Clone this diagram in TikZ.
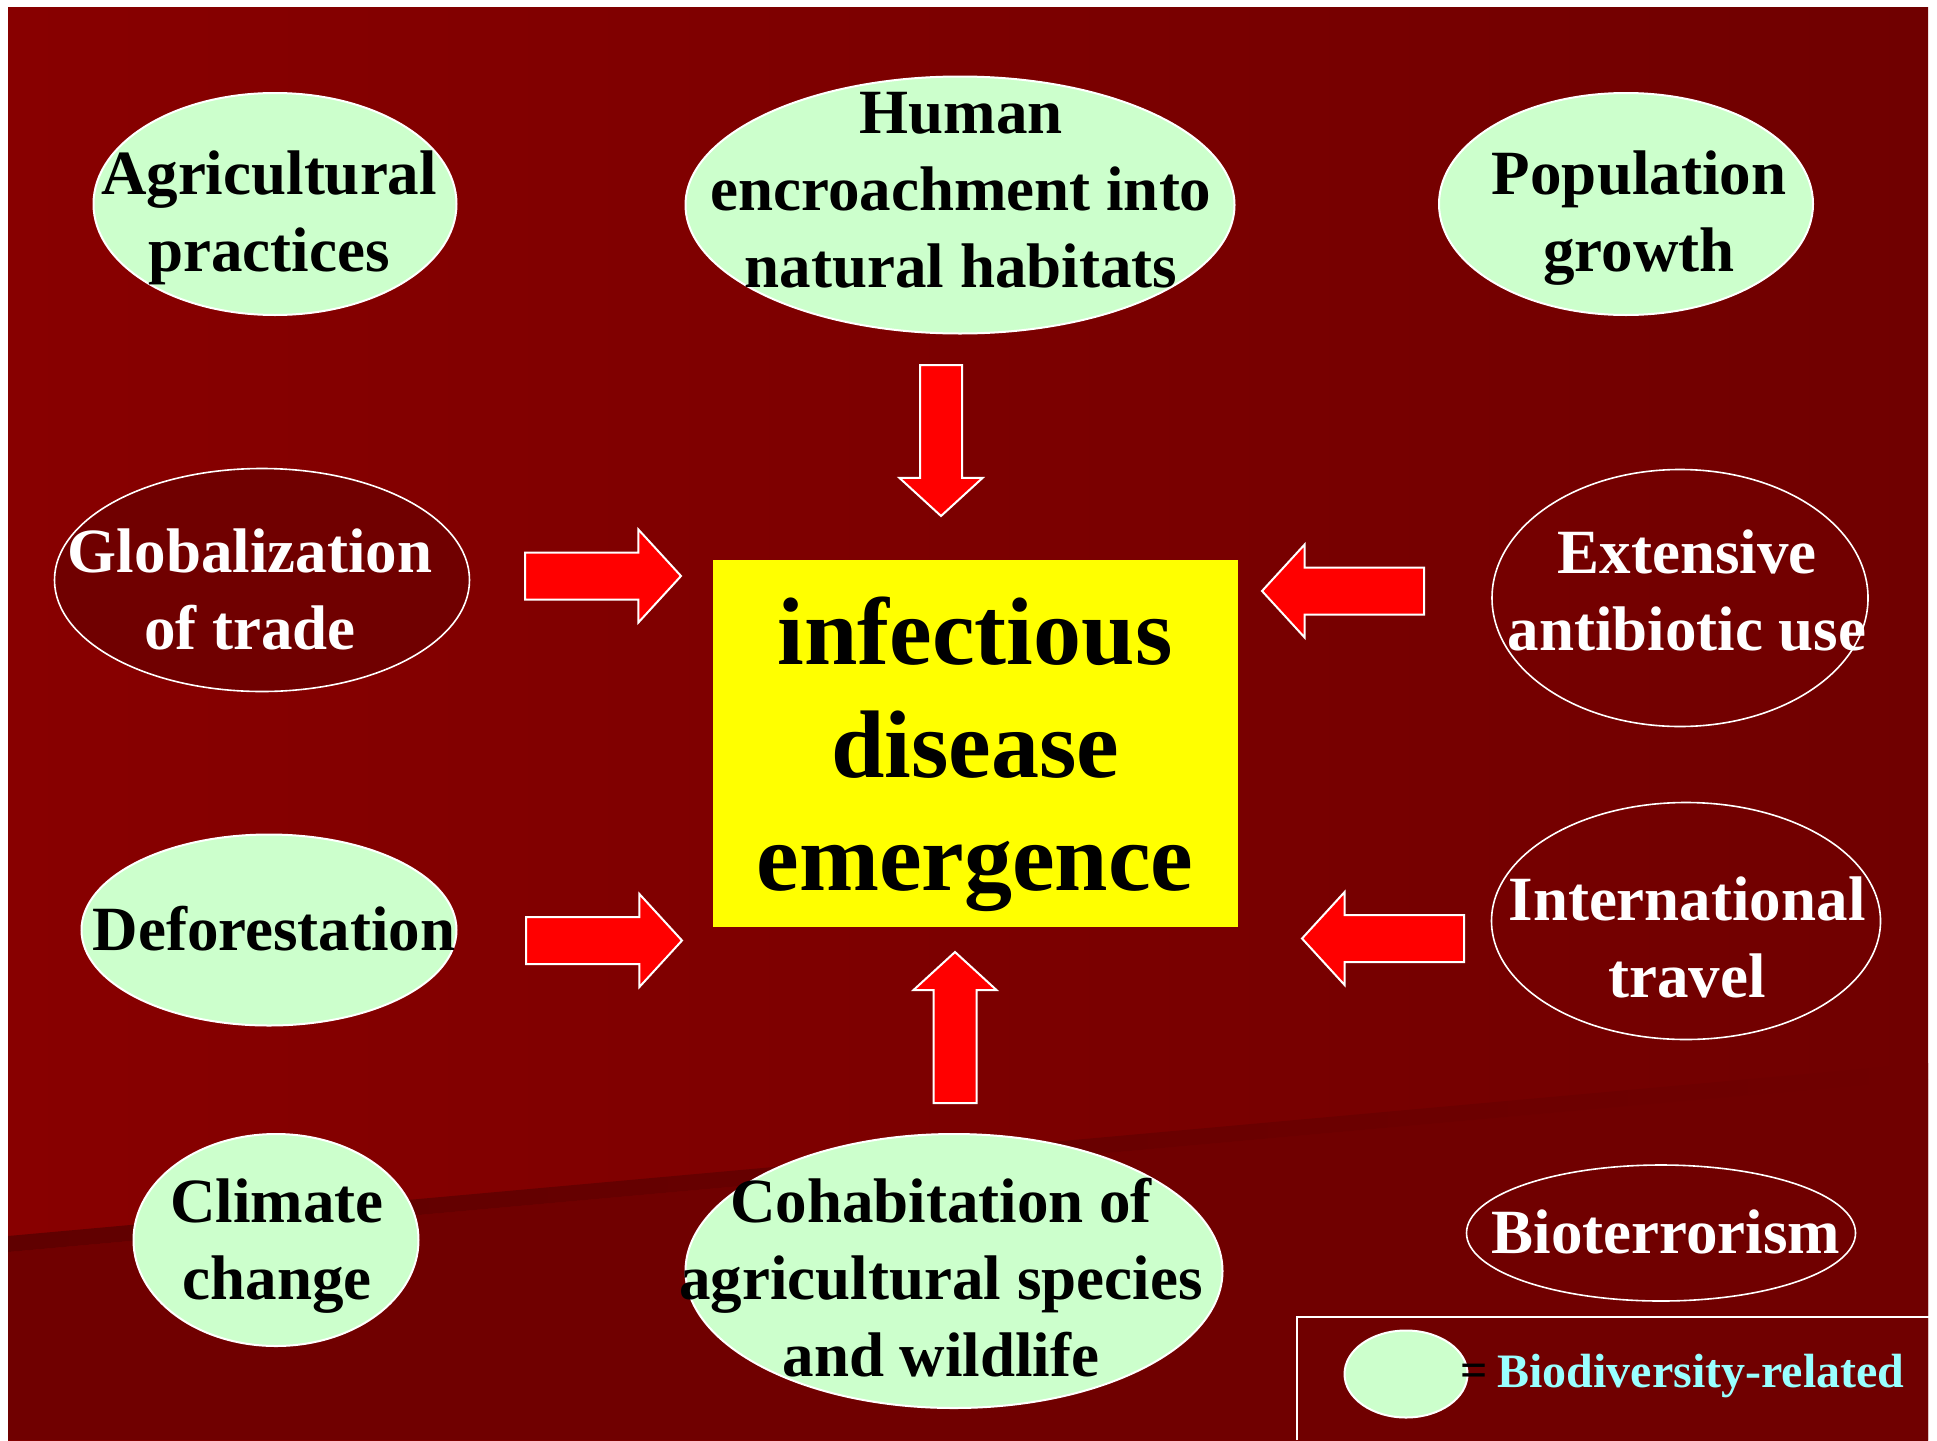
\documentclass[tikz,border=0pt]{standalone}
\usepackage{fontspec}
\setmainfont{Liberation Serif}
\usetikzlibrary{shapes.geometric,shapes.arrows}
\definecolor{bgLeft}{HTML}{880000}
\definecolor{bgRight}{HTML}{700000}
\definecolor{bgBand}{HTML}{600000}
\definecolor{bioGreen}{HTML}{CCFFCC}
\definecolor{legCyan}{HTML}{99FFFF}
\definecolor{coreYellow}{RGB}{255,255,0}
\definecolor{pushRed}{RGB}{255,0,0}

\begin{document}
\begin{tikzpicture}[
   x=1pt, y=-1pt,
   bio/.style={ellipse,draw=white,line width=2pt,fill=bioGreen,inner sep=0pt},
   risk/.style={ellipse,draw=white,line width=1.6pt,inner sep=0pt},
   txt/.style={align=center,inner sep=0pt,font=\fontsize{63}{77}\selectfont\bfseries},
   txtw/.style={txt,text=white},
   core/.style={fill=coreYellow,inner sep=0pt,minimum width=525pt,minimum height=367pt},
   push/.style={single arrow,draw=white,fill=pushRed,line width=2pt,inner xsep=0pt,
                inner ysep=22.5pt,single arrow head extend=23pt,
                single arrow tip angle=95,minimum height=156pt,anchor=tail},
   ]
\useasboundingbox[fill=white] (0,0) rectangle (1937,1440);
%% background
\shade[left color=bgLeft,right color=bgRight] (8,7) rectangle (1928,1440);
\fill[bgRight] (8,1252) -- (1928,1079) -- (1928,1440) -- (8,1440) -- cycle;
\shade[left color=bgBand,right color=bgRight] (8,1236) -- (1928,1063) -- (1928,1079) -- (8,1252) -- cycle;
%% causes, top row
\node[bio,minimum width=363pt,minimum height=222pt] (agri) at (275,204) {};
\node[txt] (agriTxt) at (269,218) {Agricultural\\practices};
\node[bio,minimum width=549pt,minimum height=257pt] (human) at (960,205) {};
\node[txt] (humanTxt) at (961,190) {Human\\encroachment into\\natural habitats};
\node[bio,minimum width=374pt,minimum height=222pt] (pop) at (1626,204) {};
\node[txt] (popTxt) at (1639,218) {Population\\growth};
%% causes, middle rows
\node[risk,fill=bgRight,minimum width=415pt,minimum height=223pt] (glob) at (262,580) {};
\node[txtw] (globTxt) at (250,589) {Globalization\\of trade};
\node[risk,minimum width=376pt,minimum height=257pt] (ext) at (1680,598) {};
\node[txtw] (extTxt) at (1687,591) {Extensive\\antibiotic use};
\node[bio,minimum width=375pt,minimum height=191pt] (defo) at (269,930) {};
\node[txt] (defoTxt) at (274,929) {Deforestation};
\node[risk,minimum width=389pt,minimum height=237pt] (intl) at (1686,921) {};
\node[txtw] (intlTxt) at (1687,937) {International\\travel};
%% causes, bottom row
\node[bio,minimum width=285pt,minimum height=212pt] (clim) at (276,1240) {};
\node[txt] (climTxt) at (277,1246) {Climate\\change};
\node[bio,minimum width=537pt,minimum height=274pt] (coh) at (954,1271) {};
\node[txt] (cohTxt) at (941,1278) {Cohabitation of\\agricultural species\\and wildlife};
\node[risk,minimum width=389pt,minimum height=136pt] (bioter) at (1661,1233) {};
\node[txtw] (bioterTxt) at (1666,1232) {Bioterrorism};
%% centre
\node[core] (core) at (975,743.5) {};
\node[align=center,inner sep=0pt,font=\fontsize{96}{113}\selectfont\bfseries] (coreTxt) at (975,754) {infectious\\disease\\emergence};
%% block arrows (placed by their tails)
\node[push,rotate=-90,minimum height=151pt,inner ysep=20pt,single arrow head extend=20.5pt] (arrTop) at (941,364) {};
\node[push] (arrGlob) at (524,576) {};
\node[push] (arrDefo) at (525,940.5) {};
\node[push,rotate=180,minimum height=162pt] (arrExt) at (1425,591) {};
\node[push,rotate=180,minimum height=162pt] (arrIntl) at (1465,938.5) {};
\node[push,rotate=90,minimum height=151pt,inner ysep=20.5pt,single arrow head extend=20pt] (arrCoh) at (955,1104) {};
%% legend
\draw[white,line width=1.5pt] (1297,1440) -- (1297,1317) -- (1930,1317);
\node[bio,minimum width=123pt,minimum height=87pt] (legBio) at (1406,1374) {};
\node[inner sep=0pt,font=\fontsize{48}{56}\selectfont\bfseries] (legEq) at (1474,1375) {=};
\node[inner sep=0pt,text=legCyan,font=\fontsize{48}{56}\selectfont\bfseries] (legTxt) at (1701,1376) {Biodiversity-related};
\end{tikzpicture}
\end{document}
